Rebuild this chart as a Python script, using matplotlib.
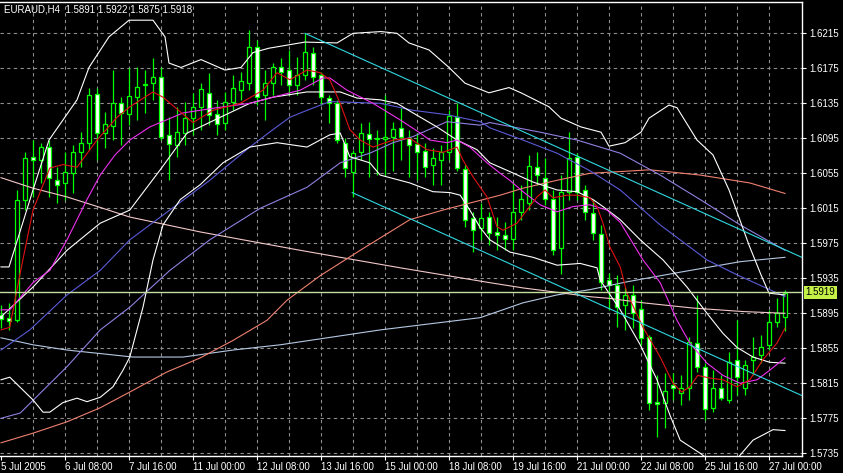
import numpy as np
import matplotlib
matplotlib.use("Agg")
import matplotlib.pyplot as plt
import matplotlib.transforms as mtransforms

plt.rcParams['font.family'] = ['Liberation Sans', 'DejaVu Sans']

# ---- chart data (EURAUD H4) ----
header = "EURAUD,H4  1.5891 1.5922 1.5875 1.5918"

opens = [1.5893, 1.5890, 1.5887, 1.6025, 1.6074, 1.6070, 1.6085, 1.6047, 1.6044, 1.6055,
         1.6079, 1.6090, 1.6146, 1.6101, 1.6109, 1.6135, 1.6123, 1.6142, 1.6156, 1.6158,
         1.6165, 1.6099, 1.6087, 1.6101, 1.6118, 1.6131, 1.6147, 1.6123, 1.6113, 1.6137,
         1.6150, 1.6158, 1.6199, 1.6145, 1.6158, 1.6176, 1.6173, 1.6156, 1.6167, 1.6193,
         1.6167, 1.6141, 1.6135, 1.6090, 1.6057, 1.6079, 1.6100, 1.6094, 1.6094, 1.6097,
         1.6107, 1.6095, 1.6089, 1.6080, 1.6065, 1.6070, 1.6079, 1.6119, 1.6060, 1.6004,
         1.5993, 1.6005, 1.5988, 1.5984, 1.5980, 1.6011, 1.6021, 1.6062, 1.6050, 1.6026,
         1.5970, 1.6034, 1.6074, 1.6036, 1.6010, 1.5986, 1.5933, 1.5927, 1.5905, 1.5916,
         1.5900, 1.5868, 1.5794, 1.5793, 1.5813, 1.5804, 1.5810, 1.5861, 1.5834, 1.5787,
         1.5810, 1.5796, 1.5842, 1.5810, 1.5842, 1.5847, 1.5859, 1.5885, 1.5891]
highs = [1.5905, 1.5907, 1.6036, 1.6079, 1.6093, 1.6090, 1.6093, 1.6062, 1.6079, 1.6087,
         1.6102, 1.6153, 1.6153, 1.6125, 1.6173, 1.6142, 1.6175, 1.6176, 1.6173, 1.6187,
         1.6176, 1.6119, 1.6131, 1.6137, 1.6147, 1.6158, 1.6170, 1.6139, 1.6148, 1.6167,
         1.6171, 1.6219, 1.6207, 1.6173, 1.6181, 1.6187, 1.6196, 1.6188, 1.6215, 1.6199,
         1.6171, 1.6145, 1.6139, 1.6095, 1.6082, 1.6113, 1.6114, 1.6105, 1.6145, 1.6114,
         1.6130, 1.6105, 1.6101, 1.6090, 1.6084, 1.6087, 1.6127, 1.6135, 1.6065, 1.6011,
         1.6021, 1.6011, 1.6005, 1.5999, 1.6045, 1.6042, 1.6076, 1.6079, 1.6072, 1.6036,
         1.6053, 1.6102, 1.6078, 1.6042, 1.6025, 1.5996, 1.5941, 1.5939, 1.5925, 1.5927,
         1.5910, 1.5870, 1.5824, 1.5827, 1.5827, 1.5824, 1.5868, 1.5916, 1.5838, 1.5830,
         1.5824, 1.5851, 1.5887, 1.5842, 1.5868, 1.5870, 1.5899, 1.5913, 1.5922]
lows = [1.5878, 1.5876, 1.5885, 1.6013, 1.6028, 1.6044, 1.6028, 1.6021, 1.6025, 1.6033,
        1.6062, 1.6082, 1.6070, 1.6084, 1.6093, 1.6087, 1.6110, 1.6116, 1.6124, 1.6139,
        1.6093, 1.6047, 1.6074, 1.6087, 1.6099, 1.6105, 1.6110, 1.6099, 1.6105, 1.6127,
        1.6139, 1.6150, 1.6133, 1.6116, 1.6145, 1.6156, 1.6145, 1.6145, 1.6162, 1.6156,
        1.6133, 1.6113, 1.6090, 1.6051, 1.6028, 1.6070, 1.6051, 1.6053, 1.6053, 1.6058,
        1.6070, 1.6051, 1.6047, 1.6051, 1.6042, 1.6042, 1.6070, 1.6058, 1.5994, 1.5965,
        1.5979, 1.5973, 1.5967, 1.5967, 1.5967, 1.6002, 1.6013, 1.6042, 1.6019, 1.5962,
        1.5940, 1.6025, 1.6025, 1.6002, 1.5979, 1.5922, 1.5899, 1.5879, 1.5876, 1.5878,
        1.5859, 1.5785, 1.5754, 1.5764, 1.5796, 1.5790, 1.5796, 1.5828, 1.5773, 1.5782,
        1.5796, 1.5793, 1.5802, 1.5802, 1.5824, 1.5838, 1.5853, 1.5879, 1.5875]
closes = [1.5888, 1.5886, 1.6025, 1.6072, 1.6070, 1.6085, 1.6050, 1.6042, 1.6057, 1.6079,
          1.6090, 1.6145, 1.6101, 1.6111, 1.6135, 1.6124, 1.6143, 1.6154, 1.6157, 1.6165,
          1.6097, 1.6089, 1.6102, 1.6118, 1.6131, 1.6151, 1.6122, 1.6111, 1.6137, 1.6153,
          1.6160, 1.6199, 1.6142, 1.6158, 1.6176, 1.6171, 1.6156, 1.6167, 1.6194, 1.6165,
          1.6142, 1.6135, 1.6093, 1.6061, 1.6078, 1.6101, 1.6094, 1.6095, 1.6097, 1.6106,
          1.6097, 1.6087, 1.6079, 1.6062, 1.6072, 1.6079, 1.6120, 1.6061, 1.6002, 1.5990,
          1.6004, 1.5987, 1.5985, 1.5980, 1.6011, 1.6026, 1.6063, 1.6053, 1.6026, 1.5967,
          1.6034, 1.6072, 1.6034, 1.6011, 1.5987, 1.5931, 1.5927, 1.5902, 1.5916, 1.5895,
          1.5867, 1.5793, 1.5791, 1.5806, 1.5810, 1.5810, 1.5862, 1.5834, 1.5786, 1.5810,
          1.5798, 1.5839, 1.5822, 1.5836, 1.5845, 1.5856, 1.5885, 1.5895, 1.5918]

# Bollinger bands (white)
bb_up_x = [0, 1, 4, 6, 9.5, 11, 13.5, 16, 19, 20.5, 21, 22.5, 25, 28, 30, 31.5, 33.5, 38, 42, 44,
           47.5, 49.5, 51, 53.5, 56, 58, 61, 63.5, 65, 68.5, 70, 72.5, 75, 76, 78, 80, 81, 83.5,
           84.5, 87, 89, 91, 93.5, 95, 96, 98]
bb_up_y = [1.5948, 1.5948, 1.6036, 1.6093, 1.6139, 1.6176, 1.6211, 1.6230, 1.6230, 1.6211,
           1.6181, 1.6176, 1.6185, 1.6173, 1.6176, 1.6193, 1.6198, 1.6205, 1.6204, 1.6215,
           1.6217, 1.6215, 1.6204, 1.6196, 1.6176, 1.6158, 1.6147, 1.6153, 1.6147, 1.6131,
           1.6118, 1.6108, 1.6102, 1.6086, 1.6090, 1.6102, 1.6118, 1.6133, 1.6130, 1.6093,
           1.6076, 1.6036, 1.5973, 1.5939, 1.5918, 1.5916]
bb_mid_x = [0, 4, 8.25, 12.4, 16.1, 19.9, 23.25, 24.9, 27.4, 31.1, 34, 38.25, 42.4, 44.5, 47.4,
            49.5, 51.5, 54.5, 57, 59.5, 61.1, 63.6, 66.5, 69.5, 72, 74, 75.25, 77.4, 79.9,
            82.75, 85.75, 88.25, 90.25, 92, 94, 96.1, 98]
bb_mid_y = [1.5891, 1.5925, 1.5967, 1.5998, 1.6013, 1.6059, 1.6101, 1.6108, 1.6119, 1.6135,
            1.6142, 1.6148, 1.6148, 1.6141, 1.6139, 1.6135, 1.6124, 1.6108, 1.6093, 1.6082,
            1.6067, 1.6057, 1.6045, 1.6036, 1.6034, 1.6025, 1.6017, 1.6002, 1.5979, 1.5956,
            1.5925, 1.5895, 1.5872, 1.5856, 1.5845, 1.5839, 1.5838]
bb_lo_x = [0, 1.1, 4, 5.25, 6.1, 7.75, 9.5, 10.75, 12.4, 14, 15.25, 16.1, 17.75, 19, 20.25,
           22.4, 24.9, 27.75, 31.1, 34.5, 38.25, 41.1, 42.4, 43.6, 46.1, 47.4, 51.1, 54, 56.1,
           57.4, 58.6, 59.9, 61.1, 63.6, 66.5, 69.5, 72.4, 74.5, 74.9, 77.4, 79.9, 82, 83.6,
           84.9, 87.4, 89, 91.1, 92.4, 94, 96.5, 98]
bb_lo_y = [1.5819, 1.5822, 1.5796, 1.5782, 1.5782, 1.5793, 1.5798, 1.5794, 1.5799, 1.5811,
           1.5830, 1.5845, 1.5902, 1.5956, 1.5996, 1.6025, 1.6042, 1.6067, 1.6085, 1.6090,
           1.6085, 1.6099, 1.6101, 1.6074, 1.6067, 1.6053, 1.6044, 1.6034, 1.6033, 1.6030,
           1.6013, 1.5993, 1.5979, 1.5965, 1.5959, 1.5950, 1.5952, 1.5947, 1.5933, 1.5899,
           1.5859, 1.5819, 1.5779, 1.5750, 1.5735, 1.5724, 1.5718, 1.5733, 1.5750, 1.5762,
           1.5761]

# fast MA (red)
ma_red_x = [0, 1.1, 2.4, 4, 6.1, 7.75, 9.5, 12, 14.5, 16.1, 19, 20.25, 24, 26.5, 29.9, 32.75,
            34.5, 36.1, 38.25, 39.9, 41.1, 42.4, 43.6, 44.9, 46.5, 49, 51.1, 53.25, 55.25, 57,
            57.75, 59, 60.75, 62, 62.75, 64.5, 65.75, 67, 68, 69, 70.75, 72, 73.6, 74.5, 75.25,
            76.1, 77.4, 78.25, 80.25, 82.4, 84, 85.1, 86.1, 87.1, 88.6, 90.25, 92, 93.6, 95.25,
            97, 98]
ma_red_y = [1.5876, 1.5879, 1.5941, 1.6013, 1.6061, 1.6065, 1.6062, 1.6093, 1.6119, 1.6131,
            1.6148, 1.6142, 1.6113, 1.6127, 1.6135, 1.6150, 1.6170, 1.6162, 1.6173, 1.6170,
            1.6162, 1.6135, 1.6105, 1.6093, 1.6085, 1.6093, 1.6095, 1.6082, 1.6079, 1.6085,
            1.6070, 1.6051, 1.6028, 1.5994, 1.5990, 1.5998, 1.6013, 1.6028, 1.6036, 1.6027,
            1.6030, 1.6030, 1.6027, 1.6017, 1.5998, 1.5971, 1.5948, 1.5918, 1.5879, 1.5845,
            1.5815, 1.5805, 1.5811, 1.5824, 1.5821, 1.5819, 1.5811, 1.5819, 1.5842, 1.5861,
            1.5878]

# medium MA (magenta)
ma_mag_x = [0, 1.1, 4, 6.1, 8.25, 10.75, 12.4, 14.25, 16.1, 18.6, 22.75, 27, 31.1, 34, 37.4,
            40.25, 41.1, 43.25, 46.5, 49.9, 52.4, 53.6, 55.75, 57, 58.6, 60.75, 62.4, 63.6,
            65.25, 67.4, 69.5, 71.5, 73.6, 75.75, 77.4, 80.25, 82.4, 84.5, 86.1, 88.25, 90.25,
            92.4, 94.5, 96.1, 98]
ma_mag_y = [1.5899, 1.5899, 1.5930, 1.5944, 1.5979, 1.6025, 1.6053, 1.6076, 1.6093, 1.6108,
            1.6124, 1.6130, 1.6135, 1.6142, 1.6150, 1.6164, 1.6164, 1.6150, 1.6135, 1.6116,
            1.6101, 1.6093, 1.6090, 1.6093, 1.6085, 1.6067, 1.6055, 1.6047, 1.6034, 1.6019,
            1.6011, 1.6017, 1.6019, 1.6013, 1.5999, 1.5956, 1.5930, 1.5887, 1.5861, 1.5838,
            1.5824, 1.5815, 1.5819, 1.5830, 1.5844]

# slower MA (blue)
ma_blue_x = [0, 3.6, 8.25, 12.4, 16.1, 21.1, 26.1, 31.1, 34, 36.1, 38.25, 41.1, 47.4, 51.5,
             55.75, 59.9, 61.1, 65.25, 69.5, 73.6, 77.4, 82.4, 88.25, 92, 96.1, 98]
ma_blue_y = [1.5853, 1.5876, 1.5916, 1.5944, 1.5979, 1.6013, 1.6047, 1.6085, 1.6105, 1.6119,
             1.6127, 1.6137, 1.6135, 1.6127, 1.6122, 1.6114, 1.6107, 1.6093, 1.6078, 1.6058,
             1.6036, 1.5996, 1.5956, 1.5939, 1.5922, 1.5914]

# slower MA (lavender)
ma_lav_x = [0, 2.4, 8.25, 12.4, 16.1, 21.1, 26.1, 32.4, 38.25, 42.4, 46.1, 49, 51.5, 55.75,
            59.9, 61.1, 67.4, 72, 77.4, 82.4, 87.4, 92.4, 98]
ma_lav_y = [1.5775, 1.5781, 1.5834, 1.5876, 1.5902, 1.5944, 1.5979, 1.6015, 1.6039, 1.6067,
            1.6078, 1.6090, 1.6097, 1.6114, 1.6110, 1.6113, 1.6102, 1.6093, 1.6078, 1.6053,
            1.6025, 1.5996, 1.5967]

# long MA (salmon)
ma_salmon_x = [0, 4, 8.25, 12.4, 16.5, 20.75, 24.9, 29, 33.25, 35.75, 39.9, 44.9, 51.1, 55.25,
               58.6, 62.4, 65.25, 69.5, 73.6, 77.4, 81.1, 87.4, 93.6, 98]
ma_salmon_y = [1.5747, 1.5758, 1.5771, 1.5787, 1.5807, 1.5828, 1.5844, 1.5864, 1.5887, 1.5910,
               1.5938, 1.5967, 1.6002, 1.6013, 1.6021, 1.6030, 1.6038, 1.6047, 1.6055, 1.6057,
               1.6059, 1.6053, 1.6044, 1.6032]

# long MA (pale pink)
ma_pink_x = [0, 4, 8.25, 12.4, 16.1, 24.9, 37.4, 49.9, 61.1, 65.25, 69.5, 73.6, 76.1, 80.25,
             86.5, 92.75, 98]
ma_pink_y = [1.6050, 1.6038, 1.6028, 1.6016, 1.6005, 1.5988, 1.5967, 1.5947, 1.5930, 1.5924,
             1.5919, 1.5914, 1.5912, 1.5907, 1.5901, 1.5897, 1.5895]

# very long MA (light steel blue)
ma_steel_x = [0, 4, 8.25, 16.5, 22.75, 29, 34.9, 47.4, 59.9, 65.25, 69.5, 73.6, 78.25, 84.9,
              92.4, 98]
ma_steel_y = [1.5867, 1.5859, 1.5853, 1.5845, 1.5845, 1.5853, 1.5859, 1.5876, 1.5890, 1.5907,
              1.5916, 1.5922, 1.5931, 1.5942, 1.5954, 1.5959]

# trend channel (cyan)
chan_up_x = [38, 100.1]
chan_up_y = [1.6215, 1.5959]
chan_lo_x = [43.9, 100.1]
chan_lo_y = [1.6033, 1.5801]

bid_price = 1.5919

price_ticks = [1.6215, 1.6175, 1.6135, 1.6095, 1.6055, 1.6015, 1.5975, 1.5935, 1.5895,
               1.5855, 1.5815, 1.5775, 1.5735]
time_tick_bars = [0, 8, 16, 24, 32, 40, 48, 56, 64, 72, 80, 88, 96]
time_labels = ['5 Jul 2005', '6 Jul 08:00', '7 Jul 16:00', '11 Jul 00:00', '12 Jul 08:00',
               '13 Jul 16:00', '15 Jul 00:00', '18 Jul 08:00', '19 Jul 16:00', '21 Jul 00:00',
               '22 Jul 08:00', '25 Jul 16:00', '27 Jul 00:00']

# ---- figure ----
W, H = 843, 473
fig = plt.figure(figsize=(W / 100, H / 100), dpi=100, facecolor='black')
ax = fig.add_axes([0, 17 / H, 802 / W, 454 / H], facecolor='black')
ax.set_xlim(-0.125, 100.125)
ax.set_ylim(1.57319, 1.62508)

# grid
grid_kw = dict(color='#8e8e8e', lw=0.8, ls=(0, (3, 3)), zorder=0)
for p in price_ticks:
    ax.axhline(p, **grid_kw)
for b in range(4, 100, 4):
    ax.axvline(b, **grid_kw)

# candles
o = np.array(opens); h = np.array(highs); l = np.array(lows); c = np.array(closes)
idx = np.arange(len(o))
ax.vlines(idx, l, h, color='#00ff00', lw=0.9, zorder=2)
bull = c >= o
lo = np.minimum(o, c)
hgt = np.maximum(np.abs(c - o), 0.00005)
ax.bar(idx[bull], hgt[bull], bottom=lo[bull], width=0.6, facecolor='black',
       edgecolor='#00ff00', linewidth=0.9, zorder=3)
ax.bar(idx[~bull], hgt[~bull], bottom=lo[~bull], width=0.6, facecolor='white',
       edgecolor='#00ff00', linewidth=0.9, zorder=3)

# indicators
lw = 0.8
ax.plot(ma_steel_x, ma_steel_y, color='#b4c8e4', lw=lw, zorder=4)
ax.plot(ma_pink_x, ma_pink_y, color='#f4c8c8', lw=lw, zorder=4)
ax.plot(ma_salmon_x, ma_salmon_y, color='#f08070', lw=lw, zorder=4)
ax.plot(ma_lav_x, ma_lav_y, color='#9080e0', lw=lw, zorder=4)
ax.plot(ma_blue_x, ma_blue_y, color='#5a5ad8', lw=lw, zorder=4)
ax.plot(bb_up_x, bb_up_y, color='white', lw=lw, zorder=4)
ax.plot(bb_mid_x, bb_mid_y, color='white', lw=lw, zorder=4)
ax.plot(bb_lo_x, bb_lo_y, color='white', lw=lw, zorder=4)
ax.plot(ma_mag_x, ma_mag_y, color='#f030f0', lw=lw, zorder=5)
ax.plot(ma_red_x, ma_red_y, color='#e01010', lw=lw, zorder=5)
ax.plot(chan_up_x, chan_up_y, color='#30d8e0', lw=lw, zorder=5)
ax.plot(chan_lo_x, chan_lo_y, color='#30d8e0', lw=lw, zorder=5)
ax.axhline(bid_price, color='#c4dea0', lw=1.0, zorder=5)

# frame and axes
for side in ['top', 'right', 'bottom']:
    ax.spines[side].set_color('white')
    ax.spines[side].set_linewidth(1.0)
ax.spines['left'].set_visible(False)

ax.yaxis.tick_right()
ax.set_yticks(price_ticks)
ax.set_yticklabels([f"{p:.4f}" for p in price_ticks])
ax.set_xticks(time_tick_bars)
ax.set_xticklabels(time_labels)
ax.tick_params(colors='white', labelcolor='white', labelsize=7, length=3, width=0.8,
               direction='out')
ax.tick_params(axis='y', pad=2)
ax.tick_params(axis='x', pad=1)
for lbl in ax.get_xticklabels():
    lbl.set_horizontalalignment('left')

# bid price tag on the price scale
trans = mtransforms.blended_transform_factory(ax.transAxes, ax.transData)
ax.text(1.004, bid_price, f"{bid_price:.4f}", transform=trans, fontsize=7, color='black',
        va='center', ha='left', clip_on=False, zorder=6,
        bbox=dict(facecolor='#c4f048', edgecolor='none', pad=1.2))

# header
ax.text(4 / 802, 1 - 8 / 454, header, transform=ax.transAxes, fontsize=7, color='white',
        va='center', ha='left')

fig.savefig('out.png', dpi=100, facecolor='black')
